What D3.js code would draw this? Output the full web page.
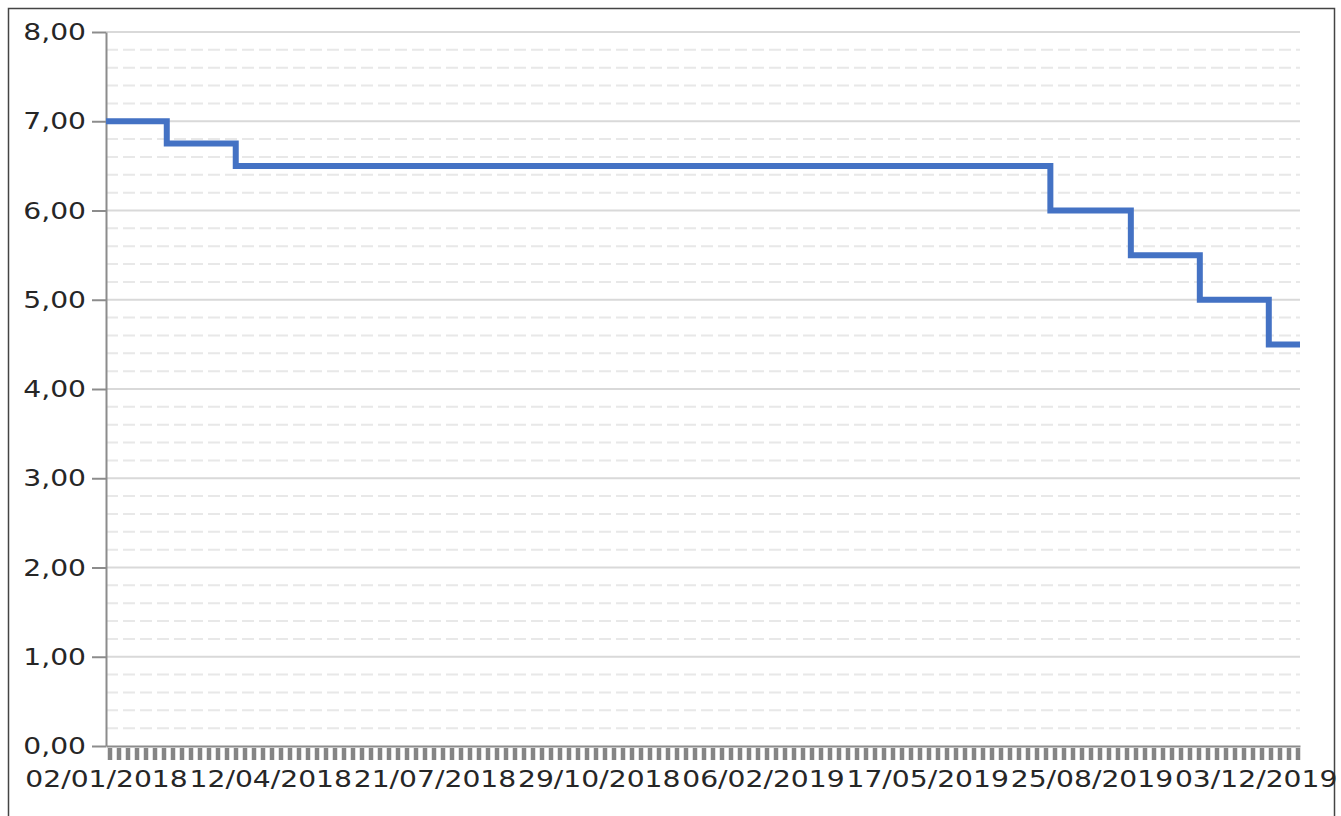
<!DOCTYPE html>
<html>
<head>
<meta charset="utf-8">
<script src="https://cdn.jsdelivr.net/npm/d3@7"></script>
<style>
  body { margin: 0; background: #fff; }
  svg { display: block; }
</style>
</head>
<body>
<svg id="chart" width="1341" height="816"></svg>
<script>
// Selic target rate, step changes (dd/mm/yyyy on axis)
const changeDates = ["2018-01-02", "2018-02-08", "2018-03-22", "2019-07-31", "2019-09-18", "2019-10-30", "2019-12-11", "2019-12-30"];
const rates = [7.00, 6.75, 6.50, 6.00, 5.50, 5.00, 4.50, 4.50];
const labelDates = ["02/01/2018", "12/04/2018", "21/07/2018", "29/10/2018", "06/02/2019", "17/05/2019", "25/08/2019", "03/12/2019"];
const yTicks = [0, 1, 2, 3, 4, 5, 6, 7, 8];

let parseIso = d3.timeParse("%Y-%m-%d");
let parseBr = d3.timeParse("%d/%m/%Y");
let fmtBr = d3.timeFormat("%d/%m/%Y");

let data = changeDates.map(function(d, i) {
    return { date: parseIso(d), value: rates[i] };
});

let plotLeft = 106, plotRight = 1300, plotTop = 32, plotBottom = 746;
let fontFamily = "'DejaVu Sans', Verdana, sans-serif";
let fontSize = 23.5;
let stretch = 1.2;   // labels in the picture are widened

let svg = d3.select("#chart");

// frame
svg.append("rect")
    .attr("x", 8.5).attr("y", 8.5)
    .attr("width", 1326).attr("height", 830)
    .attr("fill", "none")
    .attr("stroke", "#444")
    .attr("stroke-width", 1.5);

let x = d3.scaleTime()
    .domain([data[0].date, data[data.length - 1].date])
    .range([plotLeft, plotRight]);

let y = d3.scaleLinear()
    .domain([0, 8])
    .range([plotBottom, plotTop]);

// minor gridlines (every 0,20)
let minor = y.ticks(40).filter(function(v) { return Math.abs(v - Math.round(v)) > 1e-6; });
svg.append("g")
    .selectAll("line")
    .data(minor)
    .enter().append("line")
    .attr("x1", plotLeft).attr("x2", plotRight)
    .attr("y1", function(d) { return y(d); })
    .attr("y2", function(d) { return y(d); })
    .attr("stroke", "#e8e8e8")
    .attr("stroke-width", 2)
    .attr("stroke-dasharray", "12,5");

// major gridlines
svg.append("g")
    .selectAll("line")
    .data(yTicks.filter(function(v) { return v > 0; }))
    .enter().append("line")
    .attr("x1", plotLeft).attr("x2", plotRight)
    .attr("y1", function(d) { return y(d); })
    .attr("y2", function(d) { return y(d); })
    .attr("stroke", "#d9d9d9")
    .attr("stroke-width", 2);

// y axis
let yAxis = svg.append("g")
    .attr("transform", "translate(" + plotLeft + ",0)")
    .call(d3.axisLeft(y)
        .tickValues(yTicks)
        .tickSize(14)
        .tickSizeOuter(0)
        .tickPadding(12)
        .tickFormat(function(d) { return d.toFixed(2).replace(".", ","); }));

yAxis.select(".domain").attr("stroke", "#8c8c8c").attr("stroke-width", 2);
yAxis.selectAll(".tick line").attr("stroke", "#8c8c8c").attr("stroke-width", 2);
yAxis.selectAll(".tick text")
    .attr("font-family", fontFamily)
    .attr("font-size", fontSize)
    .attr("fill", "#262626")
    .attr("x", -20 / stretch)
    .attr("transform", "scale(" + stretch + ",1)");

// x axis: dense small ticks
let minorTicks = d3.range(plotLeft + 3.5, plotRight, 9).map(function(px) { return x.invert(px); });
let xTickAxis = svg.append("g")
    .attr("transform", "translate(0," + (plotBottom + 2) + ")")
    .call(d3.axisBottom(x)
        .tickValues(minorTicks)
        .tickSize(12)
        .tickSizeOuter(0)
        .tickFormat(""));
xTickAxis.select(".domain").remove();
xTickAxis.selectAll(".tick line").attr("stroke", "#858585").attr("stroke-width", 4.5);

// x axis line + labels
let xAxis = svg.append("g")
    .attr("transform", "translate(0," + plotBottom + ")")
    .call(d3.axisBottom(x)
        .tickValues(labelDates.map(parseBr))
        .tickSize(0)
        .tickSizeOuter(0)
        .tickPadding(24)
        .tickFormat(fmtBr));
xAxis.select(".domain").attr("stroke", "#8c8c8c").attr("stroke-width", 2);
xAxis.selectAll(".tick text")
    .attr("font-family", fontFamily)
    .attr("font-size", fontSize)
    .attr("fill", "#262626")
    .attr("transform", "scale(" + stretch + ",1)");

// the rate line
let line = d3.line()
    .x(function(d) { return x(d.date); })
    .y(function(d) { return y(d.value); })
    .curve(d3.curveStepAfter);

svg.append("path")
    .datum(data)
    .attr("d", line)
    .attr("fill", "none")
    .attr("stroke", "#4472c4")
    .attr("stroke-width", 6);
</script>
</body>
</html>
